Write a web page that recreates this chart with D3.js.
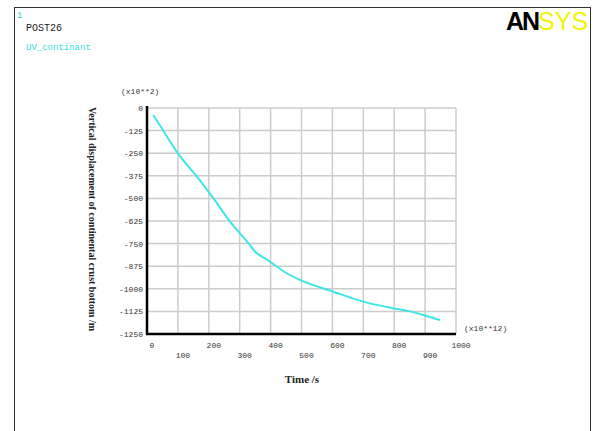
<!DOCTYPE html>
<html>
<head>
<meta charset="utf-8">
<script src="https://cdn.jsdelivr.net/npm/d3@7"></script>
<style>
  body { margin: 0; background: #fff; }
  svg { display: block; }
</style>
</head>
<body>
<svg width="599" height="431"></svg>
<script>
// time in units of 10**12 s, displacement in units of 10**2 m
var timeVals = [20, 42, 100, 166, 215, 269, 328, 350, 387, 452, 495, 603, 700, 797, 851, 894, 948];
var dispVals = [-39, -97, -251, -389, -500, -629, -748, -795, -837, -914, -951, -1016, -1071, -1108, -1125, -1145, -1173];
var xTicks = [0, 100, 200, 300, 400, 500, 600, 700, 800, 900, 1000];
var yTicks = [0, -125, -250, -375, -500, -625, -750, -875, -1000, -1125, -1250];

var svg = d3.select("svg");

var plotLeft = 147, plotRight = 456, plotTop = 108, plotBottom = 334;

var x = d3.scaleLinear().domain([0, 1000]).range([plotLeft, plotRight]);
var y = d3.scaleLinear().domain([0, -1250]).range([plotTop, plotBottom]);

// frame
svg.append("rect")
    .attr("x", 14.5).attr("y", 7.5)
    .attr("width", 576).attr("height", 440)
    .attr("fill", "none").attr("stroke", "#333").attr("stroke-width", 1);

svg.append("text").attr("x", 17).attr("y", 18)
    .attr("font-family", "Liberation Mono").attr("font-size", 9).attr("fill", "#3cc").text("1");
svg.append("text").attr("x", 26).attr("y", 31)
    .attr("font-family", "Liberation Mono").attr("font-size", 10).attr("fill", "#222").text("POST26");
svg.append("text").attr("x", 26).attr("y", 50)
    .attr("font-family", "Liberation Mono").attr("font-size", 9).attr("fill", "#3dd").text("UV_continant");

// logo
var logo = svg.append("text").attr("x", 506).attr("y", 30)
    .attr("font-family", "Liberation Sans").attr("font-size", 25).attr("font-weight", "bold");
logo.append("tspan").attr("fill", "#000").attr("letter-spacing", -2).text("AN");
logo.append("tspan").attr("fill", "#f2f20a").attr("font-weight", "normal").text("SYS");

// grid
svg.append("g").selectAll("line").data(xTicks.slice(1)).enter().append("line")
    .attr("x1", d => x(d)).attr("x2", d => x(d)).attr("y1", plotTop).attr("y2", plotBottom)
    .attr("stroke", "#ccc").attr("stroke-width", 1.5);
svg.append("g").selectAll("line").data(yTicks.slice(0, -1)).enter().append("line")
    .attr("x1", plotLeft).attr("x2", plotRight).attr("y1", d => y(d)).attr("y2", d => y(d))
    .attr("stroke", "#ccc").attr("stroke-width", 1.5);

// axes
svg.append("line").attr("x1", plotLeft).attr("x2", plotLeft).attr("y1", plotTop - 2).attr("y2", plotBottom + 1)
    .attr("stroke", "#000").attr("stroke-width", 2.5);
svg.append("line").attr("x1", plotLeft - 1).attr("x2", plotRight).attr("y1", plotBottom).attr("y2", plotBottom)
    .attr("stroke", "#000").attr("stroke-width", 2.5);

// tick labels
svg.append("g").selectAll("text").data(xTicks).enter().append("text")
    .attr("x", d => x(d) + 5)
    .attr("y", (d, i) => i % 2 ? 358 : 348)
    .attr("text-anchor", "middle")
    .attr("font-family", "Liberation Mono").attr("font-size", 8).attr("fill", "#333")
    .text(d => d);
svg.append("g").selectAll("text").data(yTicks).enter().append("text")
    .attr("x", 143)
    .attr("y", d => y(d) + 3)
    .attr("text-anchor", "end")
    .attr("font-family", "Liberation Mono").attr("font-size", 8).attr("fill", "#333")
    .text(d => d);

svg.append("text").attr("x", 121).attr("y", 94)
    .attr("font-family", "Liberation Mono").attr("font-size", 8).attr("fill", "#333").text("(x10**2)");
svg.append("text").attr("x", 464).attr("y", 331)
    .attr("font-family", "Liberation Mono").attr("font-size", 8).attr("fill", "#333").text("(x10**12)");

// titles
svg.append("text").attr("x", 302).attr("y", 383)
    .attr("text-anchor", "middle")
    .attr("font-family", "Liberation Serif").attr("font-size", 11).attr("font-weight", "bold")
    .attr("fill", "#222").text("Time /s");
svg.append("text")
    .attr("transform", "translate(89," + ((plotTop + plotBottom) / 2 - 2) + ") rotate(90)")
    .attr("text-anchor", "middle")
    .attr("font-family", "Liberation Serif").attr("font-size", 10).attr("font-weight", "bold")
    .attr("fill", "#222").text("Vertical displacement of continental crust bottom /m");

// curve
var line = d3.line()
    .x(d => x(d[0]))
    .y(d => y(d[1]))
    .curve(d3.curveMonotoneX);

svg.append("path")
    .datum(d3.zip(timeVals, dispVals))
    .attr("d", line)
    .attr("fill", "none")
    .attr("stroke", "#3ee6e6")
    .attr("stroke-width", 2);
</script>
</body>
</html>
